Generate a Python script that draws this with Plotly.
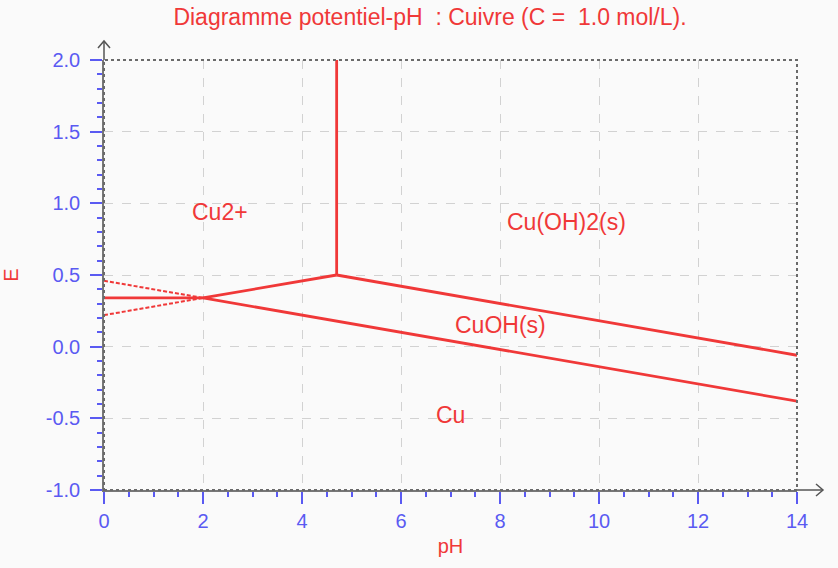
import plotly.graph_objects as go

# ---- data ----
ph_cu2_cu = [0, 2]
e_cu2_cu = [0.34, 0.34]

ph_cuoh_cu = [2, 14]
e_cuoh_cu = [0.34, -0.38]
ph_cuoh_cu_ext = [0, 2]
e_cuoh_cu_ext = [0.46, 0.34]

ph_cu2_cuoh = [2, 4.7]
e_cu2_cuoh = [0.34, 0.50]
ph_cu2_cuoh_ext = [0, 2]
e_cu2_cuoh_ext = [0.22, 0.34]

ph_cu2_cuoh2 = [4.7, 4.7]
e_cu2_cuoh2 = [0.50, 2.0]

ph_cuoh2_cuoh = [4.7, 14]
e_cuoh2_cuoh = [0.50, -0.06]

label_texts = ["Cu2+", "Cu(OH)2(s)", "CuOH(s)", "Cu"]
label_ph = [2.35, 9.35, 8.0, 7.0]
label_e = [0.94, 0.87, 0.15, -0.48]

x_tickvals = [0, 2, 4, 6, 8, 10, 12, 14]
y_tickvals = [-1.0, -0.5, 0.0, 0.5, 1.0, 1.5, 2.0]
y_ticktext = ["-1.0", "-0.5", "0.0", "0.5", "1.0", "1.5", "2.0"]

RED = "#f03838"
BLUE = "#5a5af2"
FONT = "Liberation Sans, Arial, sans-serif"

fig = go.Figure()

solid = [(ph_cu2_cu, e_cu2_cu), (ph_cuoh_cu, e_cuoh_cu), (ph_cu2_cuoh, e_cu2_cuoh),
         (ph_cu2_cuoh2, e_cu2_cuoh2), (ph_cuoh2_cuoh, e_cuoh2_cuoh)]
dashed = [(ph_cuoh_cu_ext, e_cuoh_cu_ext), (ph_cu2_cuoh_ext, e_cu2_cuoh_ext)]

for xs, ys in dashed:
    fig.add_trace(go.Scatter(x=xs, y=ys, mode="lines", showlegend=False,
                             line=dict(color=RED, width=2, dash="4px,2px")))
for xs, ys in solid:
    fig.add_trace(go.Scatter(x=xs, y=ys, mode="lines", showlegend=False,
                             line=dict(color=RED, width=2.8)))

for t, xv, yv in zip(label_texts, label_ph, label_e):
    fig.add_annotation(x=xv, y=yv, xref="x", yref="y", text=t, showarrow=False,
                       font=dict(family=FONT, size=23, color=RED))

# body margin is removed by post_script, so figure origin is the page origin
W, H = 838, 568
L, R, T, B = 104, 797, 60, 490  # plot area in page pixels
pw, ph_ = R - L, B - T

def px(x):
    return (x - L) / pw

def py(y):
    return (B - y) / ph_

AX = "#555555"
shapes = [
    dict(type="rect", xref="paper", yref="paper", x0=0, y0=0, x1=1, y1=1,
         line=dict(color="#6a6a6a", width=2, dash="dot"), layer="above"),
    # y-axis arrow
    dict(type="path", xref="paper", yref="paper",
         path=f"M {px(104)},{py(60)} L {px(104)},{py(41)}", line=dict(color=AX, width=1.5)),
    dict(type="path", xref="paper", yref="paper",
         path=f"M {px(98)},{py(48)} L {px(104)},{py(41)} L {px(110)},{py(48)}",
         line=dict(color=AX, width=1.5)),
    # x-axis arrow
    dict(type="path", xref="paper", yref="paper",
         path=f"M {px(797)},{py(490)} L {px(823)},{py(490)}", line=dict(color=AX, width=1.5)),
    dict(type="path", xref="paper", yref="paper",
         path=f"M {px(816)},{py(484)} L {px(823)},{py(490)} L {px(816)},{py(496)}",
         line=dict(color=AX, width=1.5)),
]

fig.update_layout(
    width=W, height=H,
    margin=dict(l=L, r=W - R, t=T, b=H - B, autoexpand=False),
    paper_bgcolor="#fafafa", plot_bgcolor="#fafafa",
    shapes=shapes,
    title=dict(text="Diagramme potentiel-pH  : Cuivre (C =  1.0 mol/L).",
               x=430 / W, xref="container", xanchor="center",
               y=1 - 17 / H, yref="container", yanchor="middle",
               font=dict(family=FONT, size=23, color=RED)),
    xaxis=dict(range=[0, 14], tickvals=x_tickvals, showline=True, linecolor="#777777", linewidth=1.5,
               automargin=False,
               showgrid=True, gridcolor="#d2d2d2", griddash="dash", gridwidth=1, zeroline=False,
               ticks="outside", ticklen=12, tickwidth=2, tickcolor=BLUE,
               tickfont=dict(family=FONT, size=20, color=BLUE),
               minor=dict(dtick=0.5, ticks="outside", ticklen=5, tickwidth=2, tickcolor=BLUE, showgrid=False),
               title=dict(text="pH", font=dict(family=FONT, size=20, color=RED), standoff=8)),
    yaxis=dict(range=[-1.0, 2.0], tickvals=y_tickvals, ticktext=y_ticktext, showline=True,
               linecolor="#777777", linewidth=1.5, automargin=False,
               showgrid=True, gridcolor="#d2d2d2", griddash="dash", gridwidth=1, zeroline=False,
               ticks="outside", ticklen=12, tickwidth=2, tickcolor=BLUE, ticklabelstandoff=6,
               tickfont=dict(family=FONT, size=20, color=BLUE),
               minor=dict(dtick=0.1, ticks="outside", ticklen=5, tickwidth=2, tickcolor=BLUE, showgrid=False),
               title=dict(text="E", font=dict(family=FONT, size=20, color=RED), standoff=23)),
)

fig.write_html("out.html", config={"displayModeBar": False},
               post_script="document.body.style.margin='0';document.body.style.background='#fafafa';")
